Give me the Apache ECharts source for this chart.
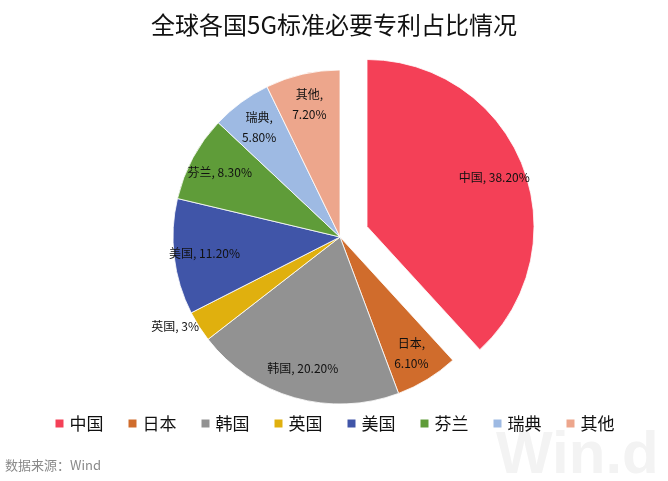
<!DOCTYPE html>
<html><head><meta charset="utf-8">
<script src="https://cdn.jsdelivr.net/npm/echarts@6/dist/echarts.min.js"></script>
<style>html,body{margin:0;padding:0;background:#fff}#c{width:668px;height:481px}</style>
</head><body><div id="c"></div>
<script>
var categories = ['中国','日本','韩国','英国','美国','芬兰','瑞典','其他'];
var values = [38.2, 6.1, 20.2, 3, 11.2, 8.3, 5.8, 7.2];
var colors = ['#F44057','#D06C2C','#929292','#E0B00E','#4055A8','#5F9C39','#9EBAE3','#EDA68C'];
var twoLine = ['日本','瑞典','其他'];
var outsideLabel = ['英国'];
var FONT = '"Noto Sans CJK SC", "Microsoft YaHei", sans-serif';

function fmtPct(v){ return (Math.round(v) === v ? String(v) : v.toFixed(2)) + '%'; }

var mainData = categories.map(function(n,i){
  return {name:n, value:values[i], selected: i===0, itemStyle:{color:colors[i]}};
});
var labelData = categories.map(function(n,i){
  var item = {name:n, value:values[i], selected: i===0};
  if (outsideLabel.indexOf(n) >= 0) {
    item.label = {position:'outside', distanceToLabelLine:0};
    item.labelLine = {show:false, length:0, length2:0};
  }
  return item;
});

var chart = echarts.init(document.getElementById('c'));
chart.setOption({
  animation:false,
  title:{text:'全球各国5G标准必要专利占比情况', left:'center', top:8,
    textStyle:{fontFamily:FONT, fontSize:24, fontWeight:'normal', color:'#111'}},
  legend:{data:categories, bottom:44, left:'center', icon:'rect', itemWidth:10, itemHeight:10,
    itemGap:23, textStyle:{fontFamily:FONT, fontSize:17, color:'#111'}},
  graphic:[
    {type:'text', left:5, top:459, style:{text:'数据来源：Wind', fill:'#8a8a8a', font:'13px ' + FONT}},
    {type:'text', left:496, top:426, z:-1, style:{text:'Win.d', fill:'#f3f3f3', font:'bold 60px "Liberation Sans", Arial, sans-serif'}}
  ],
  series:[
    {type:'pie', center:[340,237], radius:[0,167], startAngle:90, clockwise:true,
      selectedMode:'single', selectedOffset:29, silent:true,
      label:{show:false}, labelLine:{show:false},
      itemStyle:{borderColor:'#fff', borderWidth:0.8},
      emphasis:{disabled:true}, data:mainData},
    {type:'pie', center:[340,237], radius:[100,167], startAngle:90, clockwise:true,
      selectedMode:'single', selectedOffset:29, silent:true,
      itemStyle:{color:'rgba(0,0,0,0)', borderWidth:0},
      emphasis:{disabled:true},
      label:{show:true, position:'inside', color:'#111', fontFamily:FONT, fontSize:12, lineHeight:20,
        formatter:function(p){ var sep = twoLine.indexOf(p.name)>=0 ? ',\n' : ', '; return p.name + sep + fmtPct(p.value); }},
      labelLine:{show:false},
      data:labelData}
  ]
});
</script></body></html>
